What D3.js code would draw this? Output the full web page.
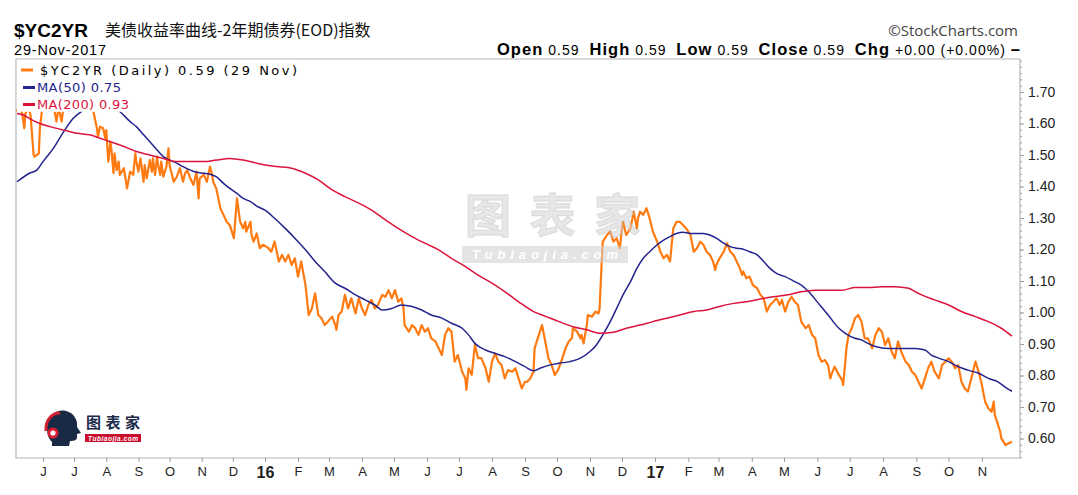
<!DOCTYPE html>
<html><head><meta charset="utf-8">
<script src="https://cdn.jsdelivr.net/npm/d3@7"></script>
<style>body{margin:0;background:#fff;}svg{display:block;}</style>
</head><body>
<svg id="chart" width="1078" height="495"></svg>
<script>
// ---------------- DATA ----------------
const priceDates = ["2015-05-06","2015-05-10","2015-05-12","2015-05-14","2015-05-15","2015-05-18","2015-05-20","2015-05-23","2015-05-24","2015-05-28","2015-05-29","2015-05-31","2015-06-04","2015-06-11","2015-06-14","2015-06-16","2015-06-19","2015-06-21","2015-06-30","2015-07-10","2015-07-16","2015-07-20","2015-07-23","2015-07-24","2015-07-26","2015-07-29","2015-07-31","2015-08-01","2015-08-03","2015-08-05","2015-08-06","2015-08-08","2015-08-09","2015-08-11","2015-08-13","2015-08-14","2015-08-18","2015-08-21","2015-08-24","2015-08-27","2015-08-29","2015-08-30","2015-09-01","2015-09-03","2015-09-06","2015-09-07","2015-09-09","2015-09-12","2015-09-14","2015-09-15","2015-09-17","2015-09-19","2015-09-20","2015-09-22","2015-09-23","2015-09-25","2015-09-28","2015-09-30","2015-10-01","2015-10-05","2015-10-08","2015-10-11","2015-10-14","2015-10-16","2015-10-18","2015-10-21","2015-10-24","2015-10-27","2015-10-29","2015-10-30","2015-11-03","2015-11-06","2015-11-07","2015-11-09","2015-11-11","2015-11-12","2015-11-15","2015-11-19","2015-11-22","2015-11-25","2015-11-28","2015-12-02","2015-12-05","2015-12-08","2015-12-11","2015-12-13","2015-12-14","2015-12-18","2015-12-19","2015-12-21","2015-12-24","2015-12-27","2015-12-30",
"2016-01-04","2016-01-07","2016-01-10","2016-01-14","2016-01-17","2016-01-20","2016-01-23","2016-01-26","2016-01-29","2016-02-01","2016-02-04","2016-02-08","2016-02-11","2016-02-14","2016-02-17","2016-02-20","2016-02-23","2016-02-26","2016-02-29","2016-03-04","2016-03-07","2016-03-08","2016-03-10","2016-03-13","2016-03-16","2016-03-19","2016-03-22","2016-03-26","2016-03-29","2016-04-01","2016-04-04","2016-04-07","2016-04-10","2016-04-13","2016-04-16","2016-04-20","2016-04-23","2016-04-26","2016-04-29","2016-05-02","2016-05-05","2016-05-08","2016-05-10","2016-05-11","2016-05-15","2016-05-18","2016-05-21","2016-05-24","2016-05-27","2016-05-30","2016-06-02","2016-06-05","2016-06-09","2016-06-12","2016-06-15","2016-06-18","2016-06-21","2016-06-24","2016-06-27","2016-06-30","2016-07-04","2016-07-07","2016-07-08","2016-07-10","2016-07-13","2016-07-16","2016-07-19","2016-07-22","2016-07-26","2016-07-29","2016-08-01","2016-08-04","2016-08-07","2016-08-10","2016-08-13","2016-08-16","2016-08-20","2016-08-23","2016-08-26","2016-08-29","2016-09-01","2016-09-03","2016-09-06","2016-09-09","2016-09-10","2016-09-14","2016-09-17","2016-09-20","2016-09-23","2016-09-26","2016-09-29","2016-10-02","2016-10-05","2016-10-09","2016-10-12","2016-10-15","2016-10-16","2016-10-20","2016-10-23","2016-10-24","2016-10-26","2016-10-29","2016-10-30","2016-11-03","2016-11-06","2016-11-09","2016-11-10","2016-11-12","2016-11-13","2016-11-17","2016-11-20","2016-11-23","2016-11-26","2016-11-29","2016-12-01","2016-12-02","2016-12-05","2016-12-09","2016-12-12","2016-12-15","2016-12-16","2016-12-18","2016-12-21","2016-12-24","2016-12-27","2016-12-30",
"2017-01-03","2017-01-06","2017-01-09","2017-01-12","2017-01-15","2017-01-18","2017-01-21","2017-01-24","2017-01-27","2017-01-30","2017-02-03","2017-02-06","2017-02-09","2017-02-12","2017-02-15","2017-02-18","2017-02-21","2017-02-24","2017-02-26","2017-02-27","2017-03-02","2017-03-06","2017-03-09","2017-03-12","2017-03-15","2017-03-18","2017-03-21","2017-03-23","2017-03-24","2017-03-27","2017-03-30","2017-04-02","2017-04-06","2017-04-09","2017-04-12","2017-04-15","2017-04-18","2017-04-21","2017-04-24","2017-04-27","2017-04-29","2017-05-02","2017-05-05","2017-05-08","2017-05-11","2017-05-14","2017-05-17","2017-05-21","2017-05-24","2017-05-27","2017-05-30","2017-06-02","2017-06-05","2017-06-08","2017-06-11","2017-06-13","2017-06-14","2017-06-17","2017-06-21","2017-06-24","2017-06-25","2017-06-27","2017-06-28","2017-06-30","2017-07-03","2017-07-06","2017-07-09","2017-07-12","2017-07-15","2017-07-18","2017-07-22","2017-07-25","2017-07-28","2017-07-31","2017-08-03","2017-08-06","2017-08-09","2017-08-12","2017-08-15","2017-08-18","2017-08-22","2017-08-25","2017-08-28","2017-08-31","2017-09-03","2017-09-06","2017-09-09","2017-09-12","2017-09-15","2017-09-18","2017-09-22","2017-09-25","2017-09-28","2017-10-01","2017-10-04","2017-10-07","2017-10-10","2017-10-13","2017-10-16","2017-10-19","2017-10-23","2017-10-26","2017-10-29","2017-11-01","2017-11-04","2017-11-07","2017-11-10","2017-11-12","2017-11-13","2017-11-16","2017-11-18","2017-11-19","2017-11-23","2017-11-26","2017-11-29"];
const priceValues = [1.64,1.65,1.632,1.585,1.632,1.65,1.627,1.50,1.495,1.505,1.585,1.64,1.67,1.66,1.606,1.65,1.606,1.66,1.69,1.72,1.70,1.632,1.585,1.558,1.590,1.585,1.553,1.579,1.479,1.542,1.516,1.442,1.505,1.452,1.479,1.437,1.458,1.394,1.447,1.437,1.505,1.479,1.447,1.489,1.415,1.468,1.426,1.484,1.447,1.489,1.437,1.495,1.468,1.437,1.479,1.431,1.463,1.521,1.468,1.415,1.431,1.458,1.415,1.442,1.452,1.426,1.405,1.447,1.362,1.426,1.437,1.415,1.431,1.463,1.437,1.415,1.394,1.331,1.310,1.288,1.278,1.236,1.362,1.288,1.267,1.288,1.257,1.288,1.246,1.225,1.251,1.204,1.215,
1.205,1.193,1.225,1.162,1.183,1.162,1.183,1.151,1.172,1.114,1.162,1.087,0.992,1.013,1.061,0.992,0.982,0.960,0.971,0.987,0.960,0.945,0.992,1.003,1.056,1.013,1.045,0.997,1.045,1.013,0.992,1.024,1.040,1.013,1.024,1.056,1.050,1.071,1.045,1.071,1.034,1.045,1.013,0.960,0.939,0.960,0.950,0.929,0.960,0.939,0.950,0.918,0.908,0.886,0.865,0.929,0.950,0.939,0.844,0.865,0.812,0.791,0.754,0.823,0.802,0.897,0.855,0.855,0.823,0.780,0.844,0.870,0.844,0.833,0.791,0.817,0.812,0.823,0.791,0.759,0.780,0.780,0.791,0.812,0.886,0.929,0.960,0.908,0.855,0.833,0.802,0.817,0.844,0.886,0.908,0.918,0.950,0.939,0.918,0.929,0.902,0.960,0.992,0.987,1.003,0.997,1.013,1.162,1.225,1.246,1.257,1.225,1.236,1.204,1.267,1.288,1.246,1.267,1.320,1.267,1.299,1.320,1.310,1.331,1.299,1.257,
1.225,1.193,1.172,1.183,1.162,1.267,1.288,1.288,1.278,1.267,1.246,1.193,1.204,1.225,1.215,1.193,1.183,1.162,1.135,1.151,1.172,1.193,1.220,1.193,1.183,1.162,1.140,1.119,1.130,1.109,1.114,1.087,1.077,1.056,1.045,1.003,1.024,1.034,1.045,1.024,1.040,1.003,1.034,1.050,1.034,1.024,0.971,0.950,0.960,0.929,0.918,0.865,0.844,0.849,0.833,0.791,0.802,0.828,0.802,0.786,0.770,0.844,0.886,0.929,0.950,0.982,0.992,0.971,0.918,0.918,0.886,0.929,0.950,0.939,0.897,0.918,0.876,0.855,0.908,0.876,0.844,0.833,0.812,0.802,0.780,0.759,0.791,0.823,0.844,0.812,0.791,0.833,0.844,0.855,0.844,0.823,0.833,0.780,0.759,0.749,0.802,0.844,0.812,0.770,0.717,0.696,0.685,0.717,0.675,0.643,0.622,0.601,0.579,0.585,0.590];

const ma50Dates = ["2015-05-07","2015-05-19","2015-05-26","2015-06-01","2015-06-11","2015-06-21","2015-06-30","2015-07-08","2015-07-18","2015-07-25","2015-08-04","2015-08-14","2015-08-24","2015-08-30","2015-09-06","2015-09-12","2015-09-19","2015-09-25","2015-10-01","2015-10-08","2015-10-14","2015-10-21","2015-10-27","2015-11-03","2015-11-09","2015-11-15","2015-11-22","2015-11-28","2015-12-05","2015-12-11","2015-12-18","2015-12-24","2016-01-01","2016-01-10","2016-01-20","2016-01-29","2016-02-08","2016-02-17","2016-02-26","2016-03-07","2016-03-16","2016-03-26","2016-04-04","2016-04-13","2016-04-20","2016-04-29","2016-05-08","2016-05-18","2016-05-27","2016-06-05","2016-06-15","2016-06-24","2016-07-04","2016-07-10","2016-07-16","2016-07-26","2016-08-04","2016-08-13","2016-08-23","2016-09-01","2016-09-09","2016-09-15","2016-09-24","2016-10-03","2016-10-13","2016-10-23","2016-11-01","2016-11-07","2016-11-13","2016-11-20","2016-11-26","2016-12-02","2016-12-09","2016-12-15","2016-12-21","2016-12-27","2017-01-03","2017-01-09","2017-01-15","2017-01-21","2017-01-27","2017-02-03","2017-02-09","2017-02-15","2017-02-21","2017-02-27","2017-03-06","2017-03-12","2017-03-18","2017-03-24","2017-03-30","2017-04-06","2017-04-12","2017-04-18","2017-04-24","2017-05-02","2017-05-11","2017-05-17","2017-05-24","2017-06-02","2017-06-11","2017-06-21","2017-06-27","2017-07-06","2017-07-12","2017-07-18","2017-07-25","2017-08-06","2017-08-18","2017-08-31","2017-09-09","2017-09-15","2017-09-22","2017-10-01","2017-10-10","2017-10-19","2017-10-29","2017-11-07","2017-11-16","2017-11-23","2017-11-29"];
const ma50Values = [1.415,1.442,1.452,1.479,1.521,1.574,1.616,1.638,1.66,1.67,1.66,1.638,1.606,1.590,1.564,1.542,1.516,1.495,1.484,1.474,1.463,1.452,1.445,1.442,1.439,1.431,1.410,1.394,1.378,1.362,1.352,1.338,1.325,1.299,1.267,1.236,1.199,1.162,1.130,1.093,1.077,1.056,1.040,1.024,1.008,1.013,1.024,1.019,1.008,0.992,0.982,0.966,0.950,0.929,0.902,0.881,0.870,0.860,0.844,0.828,0.815,0.823,0.833,0.839,0.844,0.855,0.876,0.897,0.929,0.971,1.013,1.056,1.098,1.140,1.172,1.193,1.215,1.230,1.241,1.251,1.255,1.251,1.251,1.251,1.246,1.236,1.220,1.209,1.204,1.201,1.193,1.183,1.162,1.140,1.124,1.114,1.098,1.087,1.066,1.029,0.992,0.950,0.934,0.918,0.913,0.902,0.892,0.886,0.886,0.886,0.881,0.865,0.855,0.844,0.828,0.817,0.807,0.791,0.780,0.762,0.75];

const ma200Dates = ["2015-05-07","2015-05-13","2015-05-19","2015-05-29","2015-06-08","2015-06-21","2015-07-04","2015-07-16","2015-07-26","2015-08-05","2015-08-18","2015-08-30","2015-09-12","2015-09-25","2015-10-08","2015-10-21","2015-11-03","2015-11-15","2015-11-28","2015-12-11","2015-12-24","2016-01-01","2016-01-14","2016-01-26","2016-02-08","2016-02-20","2016-03-04","2016-03-16","2016-03-29","2016-04-10","2016-04-23","2016-05-05","2016-05-18","2016-05-30","2016-06-12","2016-06-24","2016-07-07","2016-07-19","2016-08-01","2016-08-13","2016-08-26","2016-09-09","2016-09-21","2016-10-03","2016-10-16","2016-10-29","2016-11-10","2016-11-23","2016-12-05","2016-12-18","2016-12-30","2017-01-12","2017-01-24","2017-02-06","2017-02-18","2017-03-02","2017-03-15","2017-03-27","2017-04-09","2017-04-21","2017-05-05","2017-05-17","2017-05-30","2017-06-24","2017-07-06","2017-07-18","2017-07-31","2017-08-12","2017-08-25","2017-08-31","2017-09-06","2017-09-18","2017-10-01","2017-10-13","2017-10-26","2017-11-07","2017-11-19","2017-11-29"];
const ma200Values = [1.632,1.627,1.616,1.600,1.590,1.579,1.569,1.564,1.553,1.542,1.527,1.511,1.500,1.489,1.479,1.479,1.479,1.484,1.489,1.484,1.474,1.468,1.463,1.458,1.442,1.421,1.389,1.368,1.347,1.325,1.294,1.267,1.241,1.220,1.199,1.172,1.146,1.119,1.093,1.066,1.034,1.003,0.987,0.971,0.955,0.945,0.934,0.937,0.950,0.960,0.971,0.982,0.992,1.003,1.008,1.019,1.029,1.034,1.043,1.050,1.056,1.066,1.071,1.071,1.079,1.079,1.082,1.082,1.077,1.066,1.056,1.040,1.024,1.003,0.987,0.971,0.950,0.925];

const yTickValues = [0.60,0.70,0.80,0.90,1.00,1.10,1.20,1.30,1.40,1.50,1.60,1.70];
const monthTickDates = ["2015-06-01","2015-07-01","2015-08-01","2015-09-01","2015-10-01","2015-11-01","2015-12-01","2016-01-01","2016-02-01","2016-03-01","2016-04-01","2016-05-01","2016-06-01","2016-07-01","2016-08-01","2016-09-01","2016-10-01","2016-11-01","2016-12-01","2017-01-01","2017-02-01","2017-03-01","2017-04-01","2017-05-01","2017-06-01","2017-07-01","2017-08-01","2017-09-01","2017-10-01","2017-11-01"];
const monthTickLabels = ["J","J","A","S","O","N","D","16","F","M","A","M","J","J","A","S","O","N","D","17","F","M","A","M","J","J","A","S","O","N"];

const legendLabels = ["$YC2YR (Daily) 0.59 (29 Nov)","MA(50) 0.75","MA(200) 0.93"];
const ohlcParts = [["Open",true],[" 0.59  ",false],["High",true],[" 0.59  ",false],["Low",true],[" 0.59  ",false],["Close",true],[" 0.59  ",false],["Chg",true],[" +0.00 (+0.00%) ",false],["\u2013",true]];

// ---------------- CHART ----------------
const parse = d3.timeParse("%Y-%m-%d");
const svg = d3.select("#chart");
const L = 16, R = 1020, T = 59, B = 458;
const SANS = "'Liberation Sans', Arial, sans-serif";
const CJK = "'Noto Sans CJK SC', sans-serif";
const ORANGE = "#ff7a10", NAVY = "#23238e", CRIMSON = "#dc143c";

const x = d3.scaleTime()
  .domain([parse("2015-05-06"), parse("2016-01-01"), parse("2017-01-01"), parse("2017-11-29")])
  .range([16, 265, 655, 1012]);
const y = d3.scaleLinear().domain([0.60, 1.70]).range([438.5, 92]);

const mk = (ds, vs) => ds.map((d, i) => ({date: parse(d), value: vs[i]}));
const price = mk(priceDates, priceValues);
const ma50 = mk(ma50Dates, ma50Values);
const ma200 = mk(ma200Dates, ma200Values);

svg.append("rect").attr("width",1078).attr("height",495).attr("fill","#fff");

// header
svg.append("text").attr("x",14).attr("y",37).attr("font-family",SANS).attr("font-weight","bold")
  .attr("font-size",19).attr("fill","#000").text("$YC2YR");
svg.append("text").attr("x",105).attr("y",36).attr("font-family",CJK)
  .attr("font-size",16).attr("fill","#111").text("美债收益率曲线-2年期债券(EOD)指数");
svg.append("text").attr("x",14).attr("y",55).attr("font-family",SANS).attr("font-size",14.5)
  .attr("fill","#000").attr("textLength",92).attr("lengthAdjust","spacing").text("29-Nov-2017");
svg.append("text").attr("x",1018).attr("y",36).attr("text-anchor","end")
  .attr("font-family","'Open Sans', sans-serif").attr("font-size",15).attr("fill","#444")
  .text("\u00A9StockCharts.com");
const ohlc = svg.append("text").attr("x",497).attr("y",55).attr("font-family",SANS)
  .style("white-space","pre").attr("fill","#000");
ohlcParts.forEach(([t,b]) => {
  ohlc.append("tspan").attr("font-weight", b ? "bold" : "normal")
    .attr("font-size", b ? 16.5 : 14).text(t);
});
ohlc.attr("textLength",523).attr("lengthAdjust","spacing");

// plot frame
svg.append("path").attr("d",`M${R},${T}H${L}V${B}H${R}`).attr("fill","none")
  .attr("stroke","#b4b4b4").attr("stroke-width",1.2);

svg.append("clipPath").attr("id","pc").append("rect")
  .attr("x",L).attr("y",T).attr("width",R-L).attr("height",B-T);

const line = d3.line().x(d => x(d.date)).y(d => y(d.value));
const plot = svg.append("g").attr("clip-path","url(#pc)");
plot.append("path").datum(price).attr("d",line).attr("fill","none").attr("stroke",ORANGE)
  .attr("stroke-width",2.2).attr("stroke-linejoin","round");
plot.append("path").datum(ma50).attr("d",line.curve(d3.curveMonotoneX)).attr("fill","none")
  .attr("stroke",NAVY).attr("stroke-width",1.5);
plot.append("path").datum(ma200).attr("d",line.curve(d3.curveMonotoneX)).attr("fill","none")
  .attr("stroke",CRIMSON).attr("stroke-width",1.5);

// watermark
const wm = svg.append("g").attr("opacity",0.55);
wm.append("text").attr("x",465).attr("y",232).attr("font-family",CJK)
  .attr("font-weight","bold").attr("font-size",46).attr("fill","#d4d4d4").attr("stroke","#bdbdbd")
  .attr("stroke-width",1).attr("textLength",175).attr("lengthAdjust","spacing").text("图表家");
wm.append("rect").attr("x",462).attr("y",246).attr("width",166).attr("height",17).attr("fill","#cfcfcf");
wm.append("text").attr("x",472).attr("y",259).attr("font-family",SANS).attr("font-weight","bold")
  .attr("font-style","italic").attr("font-size",13).attr("fill","#fff")
  .attr("textLength",146).attr("lengthAdjust","spacing").text("Tubiaojia.com");

// bottom-left logo
const lg = svg.append("g");
lg.append("path").attr("d","M47,428 C47,414 58,409 66,411 C74,413 78,420 77,427 L81,433 L77,434 L77,438 C76,441 72,441 70,441 L69,446 L52,446 L52,442 C48,438 47,433 47,428 Z")
  .attr("fill","#1b2a44");
lg.append("path").attr("d","M46,431 C45,420 52,413 60,413").attr("fill","none").attr("stroke","#d42030").attr("stroke-width",3);
lg.append("circle").attr("cx",53).attr("cy",433).attr("r",5.5).attr("fill","#d42030");
lg.append("circle").attr("cx",53).attr("cy",433).attr("r",2.6).attr("fill","#fff");
lg.append("text").attr("x",86).attr("y",428).attr("font-family",CJK)
  .attr("font-weight","bold").attr("font-size",15).attr("fill","#1b2a4a")
  .attr("textLength",54).attr("lengthAdjust","spacing").text("图表家");
lg.append("rect").attr("x",85).attr("y",434).attr("width",56).attr("height",8).attr("fill","#c8102e");
lg.append("text").attr("x",88).attr("y",440.5).attr("font-family",SANS).attr("font-weight","bold")
  .attr("font-style","italic").attr("font-size",6.5).attr("fill","#fff")
  .attr("textLength",50).text("Tubiaojia.com");

// legend
svg.append("rect").attr("x",L+0.8).attr("y",T+0.8).attr("width",284).attr("height",52).attr("fill","#fff");
const legendColors = [ORANGE, NAVY, CRIMSON];
const legendText = ["#000", NAVY, CRIMSON];
const legendY = [70, 87.5, 104.5];
const legendX = [40, 37, 37];
const legendLen = [257, 84, 92];
legendLabels.forEach((t, i) => {
  svg.append("line").attr("x1", i === 0 ? 21 : 23).attr("x2", i === 0 ? 33 : 35)
    .attr("y1", legendY[i]).attr("y2", legendY[i]).attr("stroke", legendColors[i]).attr("stroke-width",3);
  svg.append("text").attr("x", legendX[i]).attr("y", legendY[i] + 4.5)
    .attr("font-family","'DejaVu Sans', Verdana, sans-serif").attr("font-size",13)
    .attr("fill", legendText[i]).attr("textLength", legendLen[i]).attr("lengthAdjust","spacing").text(t);
});

// y axis (right)
const yAxisG = svg.append("g").attr("transform",`translate(${R},0)`);
yAxisG.call(d3.axisRight(y).tickValues(yTickValues).tickFormat(d3.format(".2f")).tickSize(4).tickPadding(4));
const minorG = svg.append("g").attr("transform",`translate(${R},0)`);
minorG.call(d3.axisRight(y).tickValues(d3.range(0.54, 1.81, 0.02)).tickFormat("").tickSize(2));
[yAxisG, minorG].forEach(g => {
  g.select(".domain").remove();
  g.selectAll(".tick line").attr("stroke","#9a9a9a");
});
yAxisG.selectAll(".tick text").attr("font-family",SANS).attr("font-size",14).attr("fill","#222");
svg.append("line").attr("x1",R).attr("x2",R).attr("y1",T).attr("y2",B).attr("stroke","#b4b4b4").attr("stroke-width",1.2);

// x axis (bottom)
const xAxisG = svg.append("g").attr("transform",`translate(0,${B})`);
xAxisG.call(d3.axisBottom(x).tickValues(monthTickDates.map(parse))
  .tickFormat((d, i) => monthTickLabels[i]).tickSize(4).tickPadding(5));
xAxisG.select(".domain").remove();
xAxisG.selectAll(".tick line").attr("stroke","#9a9a9a");
xAxisG.selectAll(".tick text").attr("font-family",SANS).attr("fill","#222")
  .attr("font-size",(d, i) => /\d/.test(monthTickLabels[i]) ? 16 : 13)
  .attr("font-weight",(d, i) => /\d/.test(monthTickLabels[i]) ? "bold" : "normal");
</script>
</body></html>
